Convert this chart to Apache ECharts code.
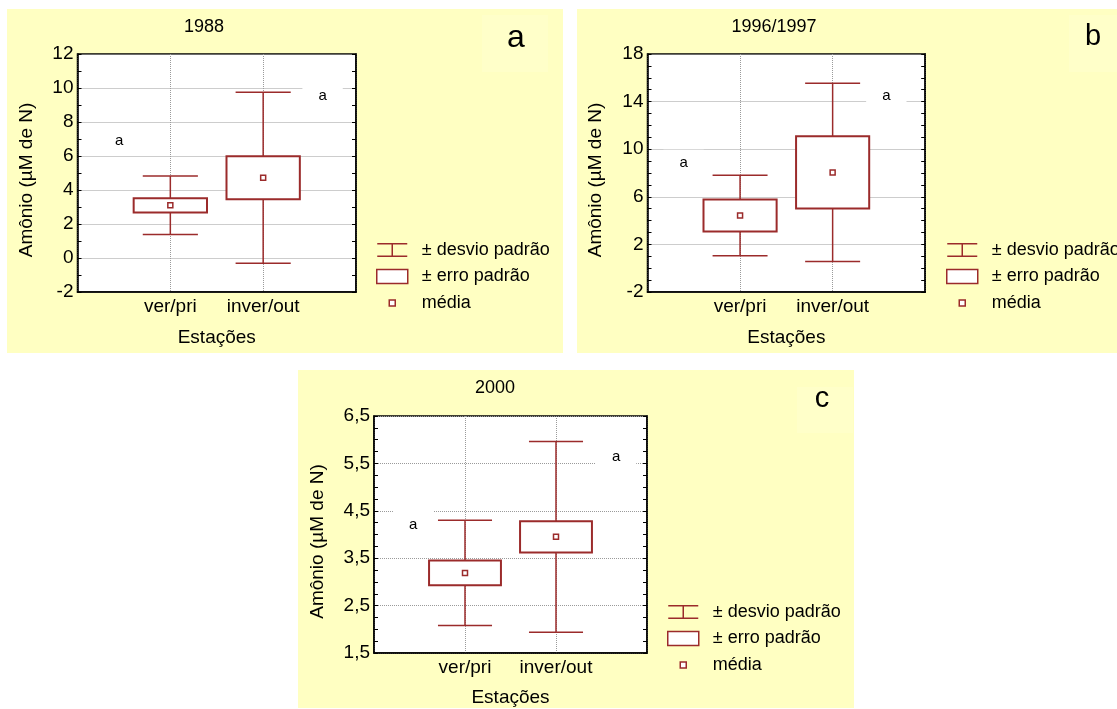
<!DOCTYPE html>
<html><head><meta charset="utf-8">
<script src="https://cdn.jsdelivr.net/npm/echarts@6/dist/echarts.min.js"></script>
<style>html,body{margin:0;padding:0;background:#fff}#c{width:1117px;height:709px}</style>
</head><body><div id="c"></div>
<script>
// ---- data ----
const categories = ['ver/pri', 'inver/out'];
const xPos = [1, 2];

const titles = ['1988', '1996/1997', '2000'];
const panelLetters = ['a', 'b', 'c'];

const mean1988 = [3.10, 4.72];
const sd1988   = [1.72, 5.03];
const se1988   = [0.42, 1.27];

const mean1997 = [4.43, 8.05];
const sd1997   = [3.39, 7.49];
const se1997   = [1.34, 3.04];

const mean2000 = [3.19, 3.95];
const sd2000   = [1.11, 2.01];
const se2000   = [0.26, 0.33];

// significance letters (x position, y value)
const sig1988 = [[0.45, 6.88], [2.64, 9.53]];
const sig1997 = [[0.39, 8.82], [2.58, 14.5]];
const sig2000 = [[0.43, 4.21], [2.66, 5.64]];

const yTicks1988 = [-2, 0, 2, 4, 6, 8, 10, 12];
const yTicks1997 = [-2, 2, 6, 10, 14, 18];
const yTicks2000 = [1.5, 2.5, 3.5, 4.5, 5.5, 6.5];

const xName = 'Estações';
const yName = 'Amônio (µM de N)';
const legendNames = ['± desvio padrão', '± erro padrão', 'média'];

// ---- style / layout ----
const RED = '#9b2b2b';
const FONT = '"Liberation Sans", Arial, sans-serif';
const BG = '#ffffc2';
const BOX_HALF = 0.395, CAP_HALF = 0.297;

const panels = [
  { mean: mean1988, sd: sd1988, se: se1988, sig: sig1988, ticks: yTicks1988, minor: 2, dec: false,
    grid: { left: 77.5, top: 54, width: 278.5, height: 238 }, bg: [7, 9, 556, 344],
    lbox: [482, 15, 66, 57], title: [204, 27], letter: [516, 38], letterSize: 32,
    legend: [376, 241], xGap: 36, yGap: 41 },
  { mean: mean1997, sd: sd1997, se: se1997, sig: sig1997, ticks: yTicks1997, minor: 4, dec: false,
    grid: { left: 647.5, top: 54, width: 277.7, height: 238 }, bg: [577, 9, 540, 344],
    lbox: [1069, 15, 48, 57], title: [774, 27], letter: [1093, 37], letterSize: 29,
    legend: [946, 241], xGap: 36, yGap: 42 },
  { mean: mean2000, sd: sd2000, se: se2000, sig: sig2000, ticks: yTicks2000, minor: 4, dec: true,
    grid: { left: 374, top: 416, width: 273, height: 237 }, bg: [298, 370, 556, 338],
    lbox: [797, 387, 56, 46], title: [495, 388], letter: [822, 399], letterSize: 29,
    legend: [667, 603], xGap: 35, yGap: 47 }
];

function whiskerItem(params, api) {
  const x = api.value(0), lo = api.value(1), hi = api.value(2);
  const a = api.coord([x, hi]), b = api.coord([x, lo]);
  const l = api.coord([x - CAP_HALF, hi])[0], r = api.coord([x + CAP_HALF, hi])[0];
  const st = { stroke: RED, lineWidth: 1.5, fill: null };
  return { type: 'group', children: [
    { type: 'line', shape: { x1: a[0], y1: a[1], x2: b[0], y2: b[1] }, style: st },
    { type: 'line', shape: { x1: l, y1: a[1], x2: r, y2: a[1] }, style: st },
    { type: 'line', shape: { x1: l, y1: b[1], x2: r, y2: b[1] }, style: st }
  ]};
}
function boxItem(params, api) {
  const x = api.value(0), lo = api.value(1), hi = api.value(2);
  const tl = api.coord([x - BOX_HALF, hi]), br = api.coord([x + BOX_HALF, lo]);
  return { type: 'rect', shape: { x: tl[0], y: tl[1], width: br[0] - tl[0], height: br[1] - tl[1] },
    style: { fill: '#fff', stroke: RED, lineWidth: 2 } };
}
function sigItem(params, api) {
  const p = api.coord([api.value(0), api.value(1)]);
  return { type: 'text', x: p[0], y: p[1], style: { text: 'a', fill: '#000', font: '15px ' + FONT,
    align: 'center', verticalAlign: 'middle', backgroundColor: '#fff', padding: [6, 16] } };
}

const IBEAM = 'path://M0,0h30v1.5h-14.25v11h14.25v1.5h-30v-1.5h14.25v-11h-14.25z';
const MEANICON = 'path://M0,0M31,14M12.5,4h6v6h-6z';

const option = { animation: false, backgroundColor: '#fff', textStyle: { fontFamily: FONT },
  grid: [], xAxis: [], yAxis: [], series: [], legend: [], graphic: [] };

panels.forEach((p, i) => {
  option.graphic.push({ type: 'rect', z: -10, shape: { x: p.bg[0], y: p.bg[1], width: p.bg[2], height: p.bg[3] }, style: { fill: BG } });
  option.graphic.push({ type: 'rect', z: -9, shape: { x: p.lbox[0], y: p.lbox[1], width: p.lbox[2], height: p.lbox[3] }, style: { fill: '#ffffc9' } });
  option.graphic.push({ type: 'text', x: p.title[0], y: p.title[1], style: { text: titles[i], fill: '#000', font: '18px ' + FONT, align: 'center', verticalAlign: 'middle' } });
  option.graphic.push({ type: 'text', x: p.letter[0], y: p.letter[1], style: { text: panelLetters[i], fill: '#000', font: p.letterSize + 'px ' + FONT, align: 'center', verticalAlign: 'middle' } });

  option.grid.push(Object.assign({ show: true, backgroundColor: '#fff', borderColor: '#000', borderWidth: 1.5, outerBoundsMode: 'none' }, p.grid));

  option.xAxis.push({ type: 'value', gridIndex: i, min: 0, max: 3, interval: 1,
    axisLine: { onZero: false, lineStyle: { color: '#000', width: 1.5 } }, axisTick: { show: false },
    axisLabel: { fontSize: 19, color: '#000', margin: 5, fontFamily: FONT,
      formatter: v => { const k = xPos.indexOf(v); return k >= 0 ? categories[k] : ''; } },
    splitLine: { show: true, lineStyle: { type: 'dotted', color: '#9a9a9a' } },
    name: xName, nameLocation: 'middle', nameGap: p.xGap, nameMoveOverlap: false,
    nameTextStyle: { fontSize: 19, color: '#000', fontFamily: FONT } });

  const t = p.ticks;
  const fmt = v => p.dec ? v.toFixed(1).replace('.', ',') : String(v);
  option.yAxis.push({ type: 'value', gridIndex: i, min: t[0], max: t[t.length - 1], interval: t[1] - t[0],
    axisLine: { show: true, onZero: false, lineStyle: { color: '#000', width: 1.5 } },
    axisTick: { show: true, inside: true, length: 4, lineStyle: { color: '#000' } },
    minorTick: { show: true, splitNumber: p.minor, length: 4, lineStyle: { color: '#000' } },
    axisLabel: { fontSize: 19, color: '#000', margin: 4, fontFamily: FONT, formatter: fmt },
    splitLine: { show: true, lineStyle: { type: 'dotted', color: '#9a9a9a' } },
    name: yName, nameLocation: 'middle', nameGap: p.yGap, nameMoveOverlap: false,
    nameTextStyle: { fontSize: 19, color: '#000', fontFamily: FONT, padding: [0, 14, 0, 0] } });
});
panels.forEach((p, i) => {
  const t = p.ticks;
  option.yAxis.push({ type: 'value', gridIndex: i, position: 'right', min: t[0], max: t[t.length - 1], interval: t[1] - t[0],
    axisLine: { show: true, onZero: false, lineStyle: { color: '#000', width: 1.5 } },
    axisTick: { show: true, inside: true, length: 4, lineStyle: { color: '#000' } },
    minorTick: { show: true, splitNumber: p.minor, length: 4, lineStyle: { color: '#000' } },
    axisLabel: { show: false }, splitLine: { show: false } });
});
panels.forEach((p, i) => {
  option.series.push({ type: 'custom', name: 'sig' + i, xAxisIndex: i, yAxisIndex: i, z: 1,
    renderItem: sigItem, encode: { x: 0, y: 1 }, data: p.sig, silent: true });
  option.series.push({ type: 'custom', name: legendNames[0], xAxisIndex: i, yAxisIndex: i, z: 2,
    renderItem: whiskerItem, encode: { x: 0, y: [1, 2] },
    itemStyle: { color: RED },
    data: xPos.map((x, k) => [x, p.mean[k] - p.sd[k], p.mean[k] + p.sd[k]]) });
  option.series.push({ type: 'custom', name: legendNames[1], xAxisIndex: i, yAxisIndex: i, z: 3,
    renderItem: boxItem, encode: { x: 0, y: [1, 2] },
    itemStyle: { color: '#fff', borderColor: RED },
    data: xPos.map((x, k) => [x, p.mean[k] - p.se[k], p.mean[k] + p.se[k]]) });
  option.series.push({ type: 'scatter', name: legendNames[2], xAxisIndex: i, yAxisIndex: i, z: 4,
    symbol: 'rect', symbolSize: 5,
    itemStyle: { color: '#fff', borderColor: RED, borderWidth: 1.5, opacity: 1 },
    data: xPos.map((x, k) => [x, p.mean[k]]) });
  option.legend.push({ orient: 'vertical', left: p.legend[0], top: p.legend[1], padding: 0,
    itemWidth: 31, itemHeight: 14, itemGap: 8.5, selectedMode: false,
    textStyle: { fontSize: 18, color: '#000', fontFamily: FONT, padding: [0, 0, 0, 9] },
    data: [
      { name: legendNames[0], icon: IBEAM, itemStyle: { color: RED, borderWidth: 0 } },
      { name: legendNames[1], icon: 'rect', itemStyle: { color: '#fff', borderColor: RED, borderWidth: 1.5 } },
      { name: legendNames[2], icon: MEANICON, itemStyle: { color: '#fff', borderColor: RED, borderWidth: 1.5 } }
    ] });
});

const chart = echarts.init(document.getElementById('c'), null, { renderer: 'canvas' });
chart.setOption(option);
</script></body></html>
